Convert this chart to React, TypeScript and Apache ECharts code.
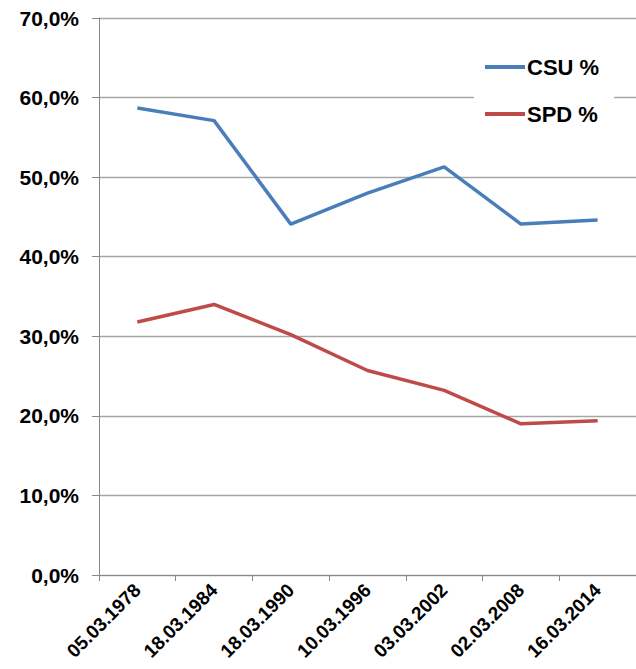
import React, { useEffect, useRef } from "react";
import * as echarts from "echarts";

const categories = [
  "05.03.1978",
  "18.03.1984",
  "18.03.1990",
  "10.03.1996",
  "03.03.2002",
  "02.03.2008",
  "16.03.2014",
];
const csuValues = [58.7, 57.1, 44.1, 48.0, 51.3, 44.1, 44.6];
const spdValues = [31.8, 34.0, 30.2, 25.7, 23.2, 19.0, 19.4];
const seriesNames = ["CSU %", "SPD %"];
const seriesColors = ["#4a7ebb", "#be4b48"];

const FONT = "'Liberation Sans', Arial, sans-serif";

export default function App() {
  const ref = useRef<HTMLDivElement>(null);
  useEffect(() => {
    if (!ref.current) return;
    const chart = echarts.init(ref.current, undefined, { renderer: "svg" });
    chart.setOption({
      animation: false,
      backgroundColor: "#ffffff",
      textStyle: { fontFamily: FONT },
      grid: { left: 99, top: 18, bottom: 94, right: -5, containLabel: false },
      legend: {
        orient: "vertical",
        left: 474,
        top: 45,
        padding: [10, 15, 10, 11],
        backgroundColor: "#ffffff",
        icon: "rect",
        itemWidth: 40,
        itemHeight: 4,
        itemGap: 23,
        textStyle: {
          fontFamily: FONT,
          fontSize: 22,
          fontWeight: "bold",
          color: "#000",
          lineHeight: 24,
          padding: [0, 0, 0, -3],
        },
        data: seriesNames,
      },
      xAxis: {
        type: "category",
        data: categories,
        boundaryGap: true,
        axisLine: { lineStyle: { color: "#888888", width: 1 } },
        axisTick: { show: true, length: 6, lineStyle: { color: "#888888" } },
        axisLabel: {
          interval: 0,
          rotate: 45,
          margin: 12,
          fontFamily: FONT,
          fontSize: 19,
          fontWeight: "bold",
          color: "#000",
        },
        splitLine: { show: false },
      },
      yAxis: {
        type: "value",
        min: 0,
        max: 70,
        interval: 10,
        axisLine: { show: true, lineStyle: { color: "#888888", width: 1 } },
        axisTick: { show: true, length: 7, lineStyle: { color: "#888888" } },
        axisLabel: {
          margin: 20,
          fontFamily: FONT,
          fontSize: 21,
          fontWeight: "bold",
          color: "#000",
          formatter: (v: number) => v.toFixed(1).replace(".", ",") + "%",
        },
        splitLine: { show: true, lineStyle: { color: "#a6a6a6", width: 1.3 } },
      },
      series: [
        {
          name: seriesNames[0],
          type: "line",
          data: csuValues,
          showSymbol: false,
          symbol: "none",
          lineStyle: { color: seriesColors[0], width: 3.5 },
          itemStyle: { color: seriesColors[0] },
        },
        {
          name: seriesNames[1],
          type: "line",
          data: spdValues,
          showSymbol: false,
          symbol: "none",
          lineStyle: { color: seriesColors[1], width: 3.5 },
          itemStyle: { color: seriesColors[1] },
        },
      ],
    });
    return () => chart.dispose();
  }, []);
  return (
    <div
      ref={ref}
      style={{ position: "fixed", left: 0, top: 0, width: 636, height: 669 }}
    />
  );
}
